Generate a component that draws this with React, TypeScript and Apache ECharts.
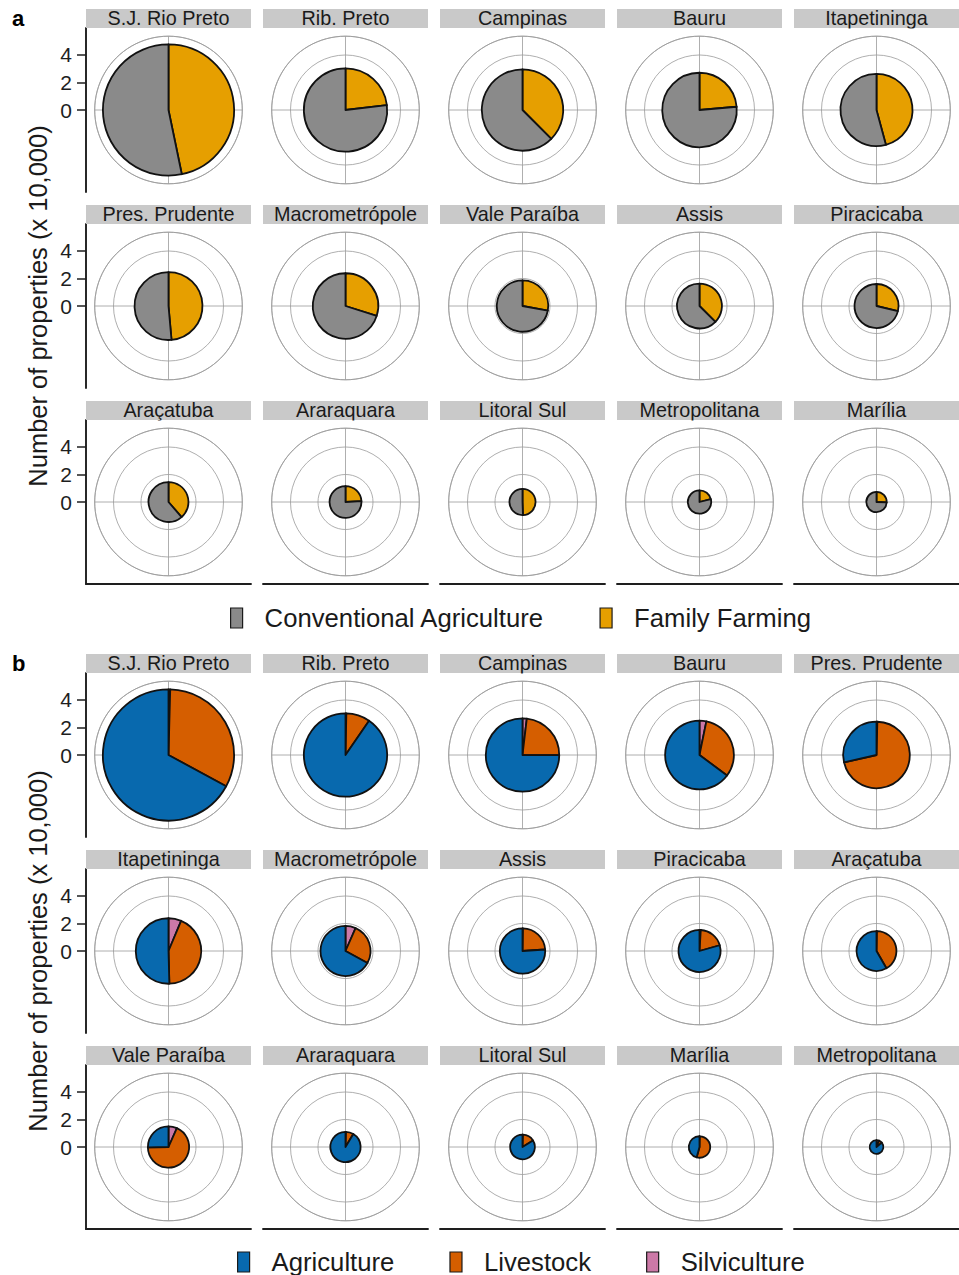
import React, { useEffect, useRef } from 'react';
import * as echarts from 'echarts';

// ---------- DATA (x 10,000 properties) ----------
const regionsA = [
  'S.J. Rio Preto', 'Rib. Preto', 'Campinas', 'Bauru', 'Itapetininga',
  'Pres. Prudente', 'Macrometrópole', 'Vale Paraíba', 'Assis', 'Piracicaba',
  'Araçatuba', 'Araraquara', 'Litoral Sul', 'Metropolitana', 'Marília',
];
const conventionalA = [2.54, 2.33, 1.85, 2.07, 1.42, 1.27, 1.67, 1.35, 1.02, 1.14, 0.89, 0.88, 0.48, 0.67, 0.55];
const familyFarmingA = [2.23, 0.70, 1.11, 0.64, 1.20, 1.20, 0.71, 0.52, 0.61, 0.46, 0.56, 0.28, 0.47, 0.18, 0.19];

const regionsB = [
  'S.J. Rio Preto', 'Rib. Preto', 'Campinas', 'Bauru', 'Pres. Prudente',
  'Itapetininga', 'Macrometrópole', 'Assis', 'Piracicaba', 'Araçatuba',
  'Vale Paraíba', 'Araraquara', 'Litoral Sul', 'Marília', 'Metropolitana',
];
const agricultureB = [3.20, 2.74, 2.00, 1.62, 0.69, 1.20, 1.22, 1.255, 1.215, 0.845, 0.38, 1.005, 0.755, 0.357, 0.43];
const livestockB = [1.55, 0.28, 0.62, 0.80, 1.72, 1.03, 0.48, 0.39, 0.30, 0.60, 1.02, 0.09, 0.14, 0.42, 0.04];
const silvicultureB = [0.02, 0.01, 0.05, 0.08, 0.01, 0.15, 0.12, 0.005, 0.015, 0.005, 0.10, 0.005, 0.005, 0.003, 0.03];

const radiusTicks = [0, 2, 4];
const yTitle = 'Number of properties (x 10,000)';

// ---------- STYLE / LAYOUT ----------
const FONT = '"Liberation Sans", Arial, Helvetica, sans-serif';
const COL_X = [86, 263, 440, 617, 794];
const PW = 165;
const PH = 164;
const STRIP_H = 19;
const ROWS_A = [9, 205, 401];
const ROWS_B = [654, 850, 1046];
const GRID_COLOR = '#9a9a9a';
const AXIS_COLOR = '#1e1e1e';
const STRIP_FILL = '#c9c9c9';

type Cat = { name: string; color: string; values: number[] };
type Fig = {
  label: string;
  regions: string[];
  cats: Cat[]; // legend order; pie is drawn clockwise in reverse order
  rows: number[];
  legendLeft: number;
  legendTop: number;
};

const figs: Fig[] = [
  {
    label: 'a',
    regions: regionsA,
    cats: [
      { name: 'Conventional Agriculture', color: '#8a8a8a', values: conventionalA },
      { name: 'Family Farming', color: '#E69F00', values: familyFarmingA },
    ],
    rows: ROWS_A,
    legendLeft: 230,
    legendTop: 605,
  },
  {
    label: 'b',
    regions: regionsB,
    cats: [
      { name: 'Agriculture', color: '#0869AE', values: agricultureB },
      { name: 'Livestock', color: '#D55E00', values: livestockB },
      { name: 'Silviculture', color: '#CC79A7', values: silvicultureB },
    ],
    rows: ROWS_B,
    legendLeft: 237,
    legendTop: 1249,
  },
];

const renderSlice = (params: any, api: any) => {
  const R = api.value(0) as number;
  const a0 = api.value(1) as number;
  const a1 = api.value(2) as number;
  if (!(a1 - a0 > 1e-9)) return { type: 'group', children: [] };
  const c = api.coord([0, 0]);
  const p0 = api.coord([R, a0]);
  const p1 = api.coord([R, a1]);
  const rpx = Math.hypot(p0[0] - c[0], p0[1] - c[1]);
  const s = Math.atan2(p0[1] - c[1], p0[0] - c[0]);
  const e = Math.atan2(p1[1] - c[1], p1[0] - c[0]);
  return {
    type: 'sector',
    shape: { cx: c[0], cy: c[1], r: rpx, r0: 0, startAngle: s, endAngle: e, clockwise: true },
    style: { fill: api.visual('color'), stroke: '#111111', lineWidth: 1.8, lineJoin: 'round' },
  };
};

function buildOption() {
  const polar: any[] = [];
  const angleAxis: any[] = [];
  const radiusAxis: any[] = [];
  const grid: any[] = [];
  const xAxis: any[] = [];
  const yAxis: any[] = [];
  const series: any[] = [];
  const graphic: any[] = [];
  const legend: any[] = [];

  const totals: number[] = [];
  figs.forEach((f) => f.regions.forEach((_, i) => totals.push(f.cats.reduce((s, c) => s + c.values[i], 0))));
  // ggplot-like polar: data max at 0.4 of panel, outer ring at 0.45
  const rMax = (Math.max(...totals) * 0.45) / 0.4;
  const yHalf = rMax / 0.9;

  figs.forEach((fig) => {
    fig.regions.forEach((name, i) => {
      const row = Math.floor(i / 5);
      const col = i % 5;
      const sx = COL_X[col];
      const sy = fig.rows[row];
      const top = sy + STRIP_H;
      const cx = sx + PW / 2;
      const cy = top + PH / 2;

      const pIdx = polar.length;
      polar.push({ center: [cx, cy], radius: 0.45 * PH });
      angleAxis.push({
        polarIndex: pIdx, type: 'value', min: 0, max: 1, interval: 0.25,
        startAngle: 90, clockwise: true,
        axisLine: { show: true, lineStyle: { color: GRID_COLOR, width: 0.8 } },
        axisTick: { show: false }, axisLabel: { show: false },
        splitLine: { show: true, lineStyle: { color: GRID_COLOR, width: 0.8 } },
      });
      radiusAxis.push({
        polarIndex: pIdx, type: 'value', min: 0, max: rMax, interval: 2,
        axisLine: { show: false }, axisTick: { show: false }, axisLabel: { show: false },
        splitLine: { show: true, lineStyle: { color: GRID_COLOR, width: 0.8 } },
      });

      const gIdx = grid.length;
      grid.push({ left: sx, top, width: PW, height: PH, containLabel: false, outerBoundsMode: 'none' });
      xAxis.push({
        gridIndex: gIdx, type: 'value', min: 0, max: 1, show: row === 2,
        axisLine: { show: true, onZero: false, lineStyle: { color: AXIS_COLOR, width: 1.9 } },
        axisTick: { show: false }, axisLabel: { show: false }, splitLine: { show: false },
      });
      yAxis.push({
        gridIndex: gIdx, type: 'value', min: -yHalf, max: yHalf, show: col === 0,
        axisLine: { show: true, onZero: false, lineStyle: { color: AXIS_COLOR, width: 1.9 } },
        axisTick: { show: true, customValues: radiusTicks, length: 9, lineStyle: { color: AXIS_COLOR, width: 1.5 } },
        axisLabel: { show: true, customValues: radiusTicks, fontSize: 21, fontFamily: FONT, color: '#1e1e1e', margin: 14 },
        splitLine: { show: false },
      });

      const order = [...fig.cats].reverse();
      const total = order.reduce((s, c) => s + c.values[i], 0);
      let acc = 0;
      order.forEach((cat) => {
        const a0 = acc / total;
        acc += cat.values[i];
        const a1 = acc / total;
        series.push({
          type: 'custom', name: cat.name, coordinateSystem: 'polar', polarIndex: pIdx,
          itemStyle: { color: cat.color }, silent: true, z: 3,
          renderItem: renderSlice, data: [[total, a0, a1]],
        });
      });

      graphic.push({ type: 'rect', z: 100, shape: { x: sx, y: sy, width: PW, height: STRIP_H }, style: { fill: STRIP_FILL } });
      graphic.push({
        type: 'text', z: 101, x: cx, y: sy + 9,
        style: { text: name, fontSize: 19.8, fontFamily: FONT, fill: '#1a1a1a', textAlign: 'center', textVerticalAlign: 'middle' },
      });
      graphic.push({ type: 'rect', z: 102, shape: { x: sx + 1.5, y: top + 0.5, width: PW - 1.5, height: 3 }, style: { fill: '#ffffff' } });
    });

    const yMid = (fig.rows[0] + STRIP_H + fig.rows[2] + STRIP_H + PH) / 2;
    graphic.push({
      type: 'text', z: 101, x: 38, y: yMid, rotation: Math.PI / 2,
      style: { text: yTitle, fontSize: 25.5, fontFamily: FONT, fill: '#1a1a1a', textAlign: 'center', textVerticalAlign: 'middle' },
    });
    graphic.push({
      type: 'text', z: 101, x: 12, y: fig.rows[0] + 9,
      style: { text: fig.label, fontSize: 22, fontWeight: 'bold', fontFamily: FONT, fill: '#000000', textAlign: 'left', textVerticalAlign: 'middle' },
    });

    legend.push({
      data: fig.cats.map((c) => c.name),
      left: fig.legendLeft, top: fig.legendTop, padding: 0,
      orient: 'horizontal', icon: 'rect', itemWidth: 12, itemHeight: 20, itemGap: 55,
      selectedMode: false,
      itemStyle: { borderColor: '#1a1a1a', borderWidth: 1.2 },
      textStyle: { fontSize: 25.7, fontFamily: FONT, color: '#1a1a1a', lineHeight: 20, padding: [0, 0, 0, 17] },
    });
  });

  return {
    animation: false,
    backgroundColor: '#ffffff',
    polar, angleAxis, radiusAxis, grid, xAxis, yAxis, series, graphic, legend,
  };
}

export default function App() {
  const ref = useRef<HTMLDivElement>(null);
  useEffect(() => {
    document.body.style.margin = '0';
    if (!ref.current) return;
    const chart = echarts.init(ref.current, undefined, { renderer: 'svg' });
    chart.setOption(buildOption() as any);
    return () => chart.dispose();
  }, []);
  return <div ref={ref} style={{ width: 959, height: 1275 }} />;
}
